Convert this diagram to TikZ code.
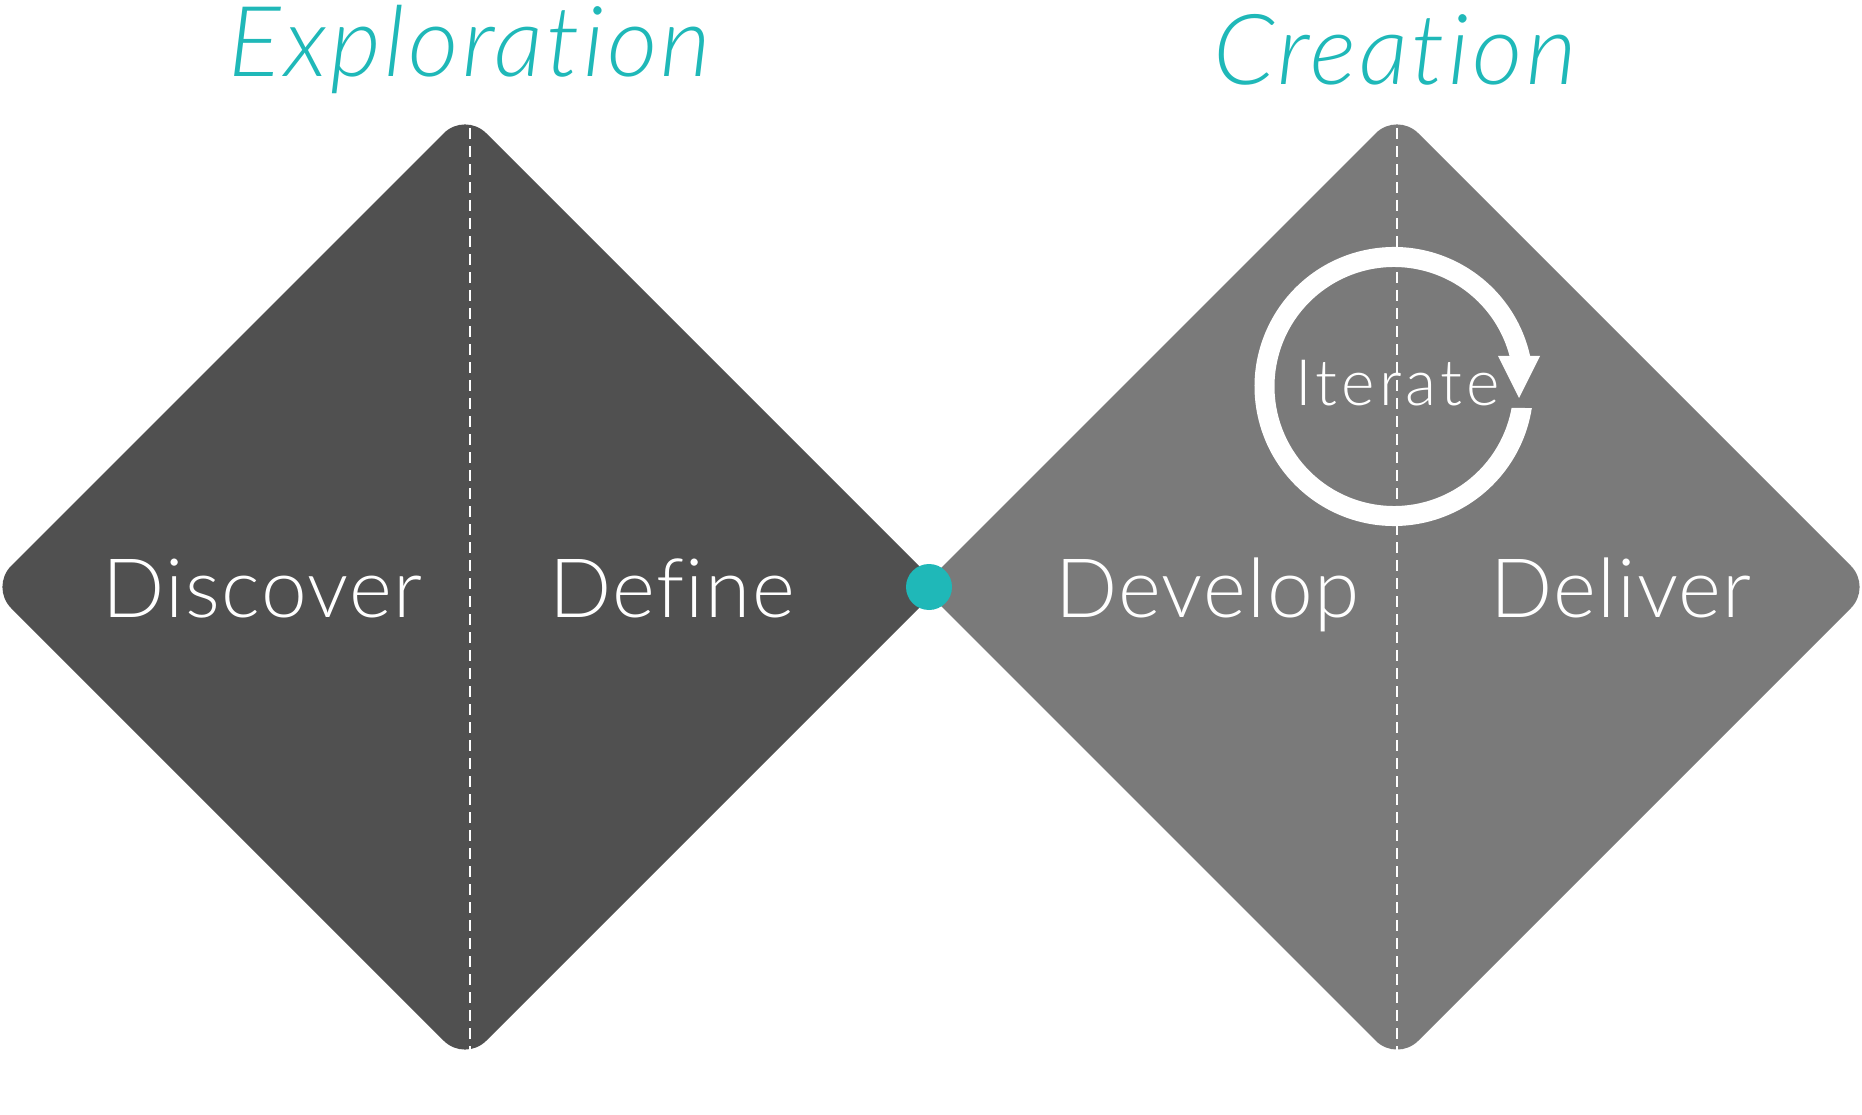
\documentclass[tikz,border=0pt]{standalone}
\usepackage{fontspec}
\setmainfont{Lato}[UprightFont=* Light, ItalicFont=* Light Italic, Ligatures={NoCommon}]
\usepackage{tikz}
\usetikzlibrary{calc}

\definecolor{darkdia}{HTML}{505050}
\definecolor{lightdia}{HTML}{7A7A7A}
\definecolor{tealmark}{HTML}{1FB8B8}

\begin{document}
\begin{tikzpicture}[x=0.5pt,y=0.5pt,
  phase/.style={text=white,anchor=base,font=\fontsize{41}{49}\selectfont\addfontfeatures{LetterSpace=1.8}},
  loopword/.style={text=white,anchor=base,font=\fontsize{32}{38}\selectfont\addfontfeatures{LetterSpace=6.5}},
  title/.style={text=tealmark,anchor=base,font=\itshape\fontsize{49}{59}\selectfont\addfontfeatures{LetterSpace=3.4}},
  divider/.style={white,line width=1.3pt,dash pattern=on 5.5pt off 3.5pt}]
\useasboundingbox (0,-527) rectangle (1862,587);
% the two diamonds
\fill[darkdia,rounded corners=15pt] (465,475) -- (940,0) -- (465,-475) -- (-10,0) -- cycle;
\fill[lightdia,rounded corners=15pt] (1397,475) -- (1872,0) -- (1397,-475) -- (922,0) -- cycle;
\draw[divider] (470,459) -- (470,-464);
\draw[divider] (1397,459) -- (1397,-464);
\fill[tealmark] (929,0) circle (23);
% iterate loop
\coordinate (loop) at (1394,200.5);
\fill[white] ($(loop)+(12.63:139.5)$) arc[start angle=12.63,end angle=351.13,radius=139.5]
  -- ($(loop)+(-10.36:119.5)$) arc[start angle=349.64,end angle=14.79,radius=119.5] -- cycle;
\fill[white] (1498,231) -- (1540,231) -- (1519,189) -- cycle;
\node[loopword] (iterate) at (1397.5,181) {Iterate};
\node[phase] (discover) at (262.5,-30) {Discover};
\node[phase] (define) at (672,-30) {Define};
\node[phase] (develop) at (1207.5,-30) {Develop};
\node[phase] (deliver) at (1621,-30) {Deliver};
\node[title] (exploration) at (470,510) {Exploration};
\node[title] (creation) at (1395,502) {Creation};
\end{tikzpicture}
\end{document}
